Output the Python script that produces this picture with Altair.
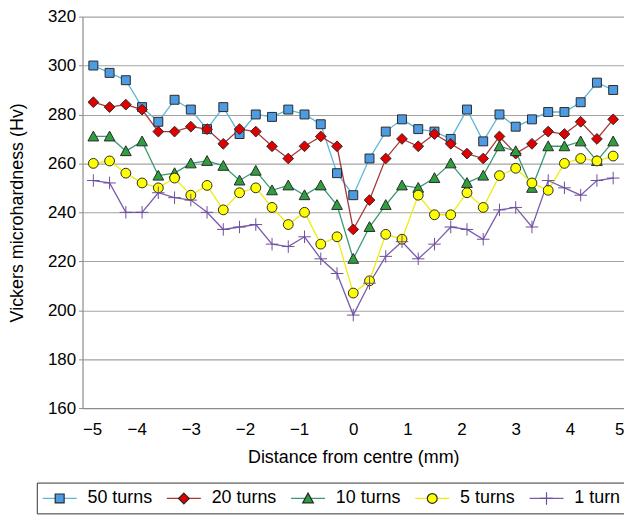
import altair as alt
import pandas as pd

distance = [-4.8, -4.5, -4.2, -3.9, -3.6, -3.3, -3.0, -2.7, -2.4, -2.1, -1.8,
            -1.5, -1.2, -0.9, -0.6, -0.3, 0.0, 0.3, 0.6, 0.9, 1.2, 1.5,
            1.8, 2.1, 2.4, 2.7, 3.0, 3.3, 3.6, 3.9, 4.2, 4.5, 4.8]

series_names = ["50 turns", "20 turns", "10 turns", "5 turns", "1 turn"]

turns_50 = [300, 297, 294, 283, 277, 286, 282, 274, 283, 272, 280,
            279, 282, 280, 276, 256, 247, 262, 273, 278, 274, 273,
            270, 282, 269, 280, 275, 278, 281, 281, 285, 293, 290]
turns_20 = [285, 283, 284, 282, 273, 273, 275, 274, 268, 274, 273,
            267, 262, 267, 271, 267, 233, 245, 262, 270, 267, 272,
            268, 264, 262, 271, 264, 268, 273, 272, 277, 270, 278]
turns_10 = [271, 271, 265, 269, 255, 256, 260, 261, 259, 253, 257,
            249, 251, 247, 251, 243, 221, 234, 243, 251, 250, 254,
            260, 252, 255, 267, 265, 250, 267, 267, 269, 261, 269]
turns_5 = [260, 261, 256, 252, 250, 254, 247, 251, 241, 248, 250,
           242, 235, 240, 227, 230, 207, 212, 231, 229, 247, 239,
           239, 248, 242, 255, 258, 252, 249, 260, 262, 261, 263]
turns_1 = [253, 252, 240, 240, 248, 246, 245, 240, 233, 234, 235,
           227, 226, 230, 221, 215, 198, 211, 222, 228, 221, 227,
           234, 233, 229, 241, 242, 234, 253, 250, 247, 253, 254]

x_ticks = [-5, -4, -3, -2, -1, 0, 1, 2, 3, 4, 5]
y_ticks = [160, 180, 200, 220, 240, 260, 280, 300, 320]

line_colors = ["#5CB6D8", "#A73838", "#3A9A72", "#EDED10", "#7A5CA8"]
fill_colors = ["#4D9BE2", "#E00000", "#2E9E3E", "#FFFF00", "#6E4E9E"]
edge_colors = ["#2a2a2a", "#2a2a2a", "#2a2a2a", "#2a2a2a", "#6E4E9E"]

# symbol paths share the same bounding moves so both legends lay out identically
BOX = "M-1.9,-0.6M1.9,0.6"
line_path = BOX + "M-1.9,0H1.9"
shapes = [
    BOX + "M-0.5,-0.5H0.5V0.5H-0.5Z",
    BOX + "M0,-0.6L0.6,0L0,0.6L-0.6,0Z",
    BOX + "M0,-0.6L0.6,0.5H-0.6Z",
    BOX + "M-0.55,0A0.55,0.55,0,1,0,0.55,0A0.55,0.55,0,1,0,-0.55,0Z",
    BOX + "M-0.7,0H0.7M0,-0.7V0.7",
]

all_series = [turns_50, turns_20, turns_10, turns_5, turns_1]
rows = []
for k, (name, vals) in enumerate(zip(series_names, all_series)):
    for d, v in zip(distance, vals):
        rows.append({"distance": d, "hv": v, "series": name,
                     "series_pt": name, "order": k})
df = pd.DataFrame(rows)

FONT = "Liberation Sans"
order_sort = alt.EncodingSortField(field="order", op="min")
SYM = 324

x_enc = alt.X("distance:Q",
              scale=alt.Scale(domain=[-5, 5], nice=False, zero=False),
              axis=alt.Axis(values=x_ticks, grid=False, ticks=False, tickSize=0,
                            labelPadding=14, title="Distance from centre (mm)",
                            titlePadding=11))
y_enc = alt.Y("hv:Q",
              scale=alt.Scale(domain=[160, 320], nice=False, zero=False),
              axis=alt.Axis(values=y_ticks, grid=True, ticks=True, tickSize=4,
                            labelPadding=3, title="Vickers microhardness (Hv)",
                            titleX=-65, titleBaseline="middle"))

common = dict(title=None, orient="none", legendX=-46, legendY=469,
              direction="horizontal", columns=5, symbolSize=SYM,
              symbolStrokeWidth=1.2, symbolOffset=7, labelOffset=18,
              labelFontSize=18, labelFont=FONT, columnPadding=11, padding=6)

legend_lines = alt.Legend(symbolType=line_path, labelColor="black", **common)
legend_pts = alt.Legend(symbolOpacity=1, labelOpacity=0,
                        strokeColor="#333333", **common)

lines = alt.Chart(df).mark_line(strokeWidth=1.3).encode(
    x=x_enc, y=y_enc,
    color=alt.Color("series:N", sort=order_sort,
                    scale=alt.Scale(range=line_colors), legend=legend_lines),
)

points = alt.Chart(df).mark_point(filled=True, size=SYM, strokeWidth=1, opacity=1).encode(
    x=x_enc, y=y_enc,
    fill=alt.Fill("series_pt:N", sort=order_sort,
                  scale=alt.Scale(range=fill_colors), legend=legend_pts),
    shape=alt.Shape("series_pt:N", sort=order_sort,
                    scale=alt.Scale(range=shapes), legend=legend_pts),
    stroke=alt.Stroke("series_pt:N", sort=order_sort,
                      scale=alt.Scale(range=edge_colors), legend=legend_pts),
)

chart = alt.layer(lines, points).properties(
    width=545, height=394,
    autosize=alt.AutoSizeParams(type="none"),
    padding={"left": 75, "top": 7, "right": 0, "bottom": 107},
).configure(font=FONT).configure_view(stroke=None).configure_axis(
    labelFont=FONT, labelFontSize=17, labelColor="black",
    titleFont=FONT, titleFontSize=18, titleFontWeight="normal", titleColor="black",
    domainColor="#8c8c8c", domainWidth=1.2, tickColor="#8c8c8c",
    gridColor="#a3a3a3", gridWidth=1.1,
)

chart.save("out.html", embed_options={"renderer": "svg", "actions": False})
